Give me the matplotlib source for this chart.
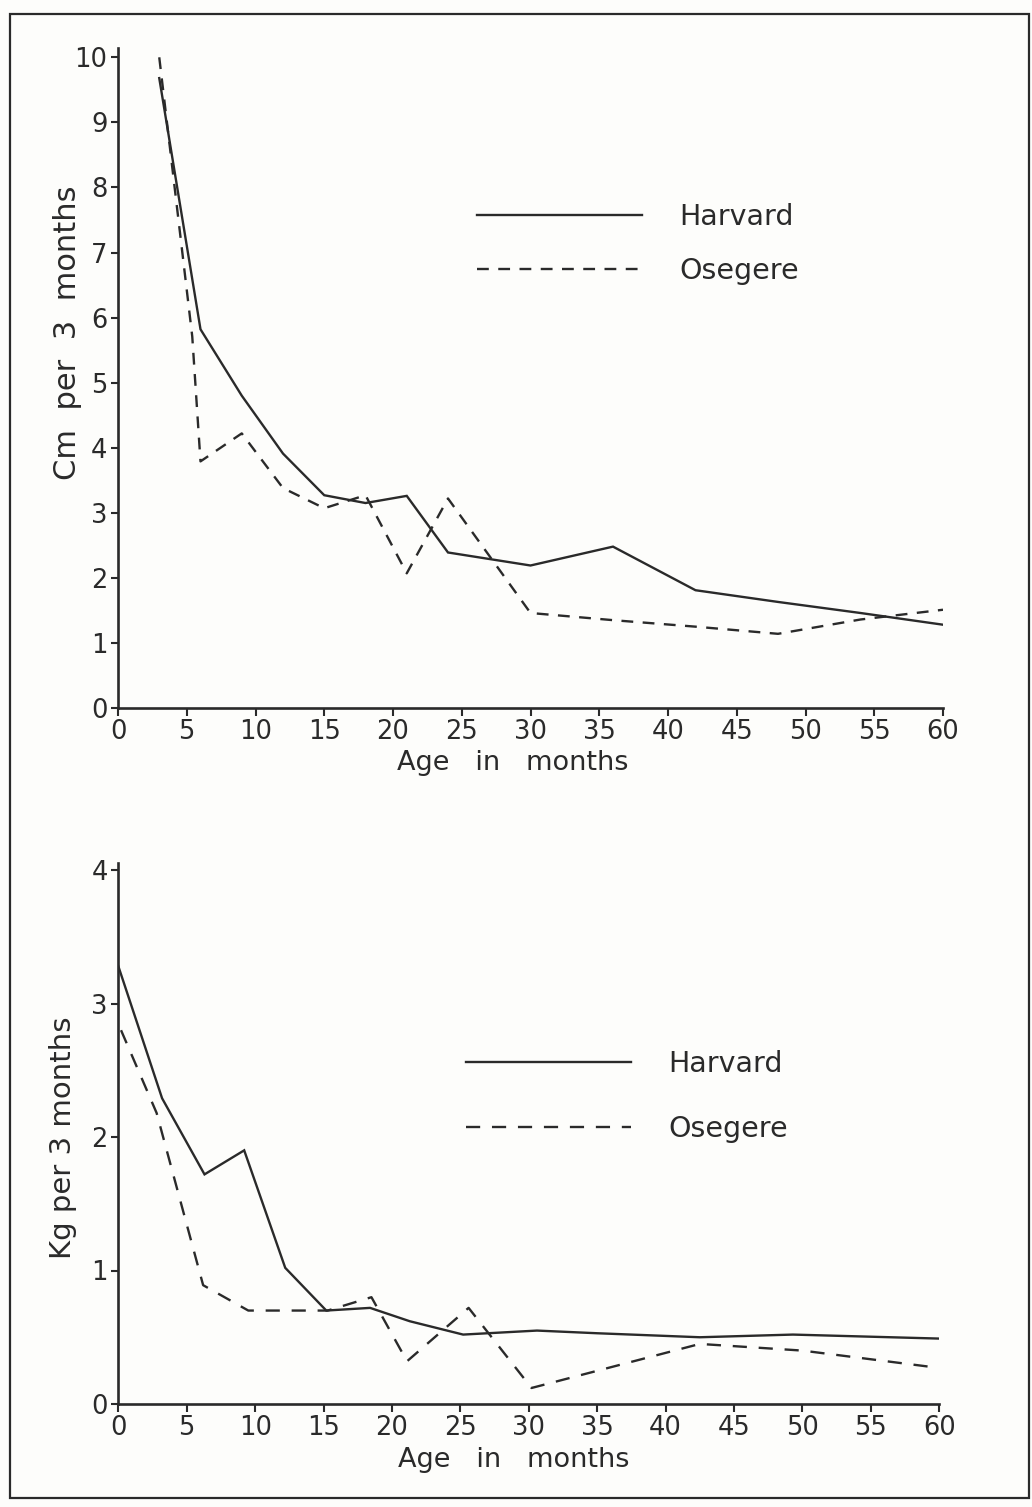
import matplotlib
matplotlib.use("Agg")
import matplotlib.pyplot as plt
from matplotlib.patches import Rectangle

# ---------------- data ----------------
# Top panel: length velocity, cm per 3 months
len_harvard_age = [3, 6, 9, 12, 15, 18, 21, 24, 27, 30, 36, 42, 48, 54, 60]
len_harvard_val = [9.68, 5.82, 4.80, 3.91, 3.27, 3.15, 3.26, 2.39, 2.29, 2.19, 2.48, 1.81, 1.63, 1.46, 1.28]

len_osegere_age = [3, 5.4, 6, 9, 12, 15, 18, 21, 24, 30, 36, 42, 48, 54, 60]
len_osegere_val = [10.0, 5.71, 3.79, 4.22, 3.38, 3.07, 3.27, 2.07, 3.22, 1.46, 1.35, 1.25, 1.14, 1.36, 1.51]

# Bottom panel: weight velocity, kg per 3 months
wt_harvard_age = [0, 3.2, 6.3, 9.2, 12.2, 15.2, 18.4, 21.3, 25.2, 30.6, 35, 42.5, 49.3, 60]
wt_harvard_val = [3.28, 2.29, 1.72, 1.90, 1.02, 0.70, 0.72, 0.62, 0.52, 0.55, 0.53, 0.50, 0.52, 0.49]

wt_osegere_age = [0.2, 2.8, 6.2, 9.5, 15.3, 18.5, 21.1, 25.6, 30.2, 42.5, 50, 60]
wt_osegere_val = [2.80, 2.18, 0.89, 0.70, 0.70, 0.80, 0.32, 0.72, 0.12, 0.45, 0.40, 0.27]

x_ticks = list(range(0, 61, 5))
top_y_ticks = list(range(0, 11))
bot_y_ticks = list(range(0, 5))
series_names = ["Harvard", "Osegere"]
top_ylabel = "Cm  per  3  months"
bot_ylabel = "Kg per 3 months"
xlabel_text = "Age   in   months"

# ---------------- figure ----------------
W, H = 1032, 1507
plt.rcParams["font.family"] = ["DejaVu Sans"]
ink = "#2a2a2a"
fig = plt.figure(figsize=(W / 100, H / 100), dpi=100)
fig.patch.set_facecolor("#fdfdfb")


def axes_rect(left, right, bottom, top):
    return [left / W, 1 - bottom / H, (right - left) / W, (bottom - top) / H]


ax1 = fig.add_axes(axes_rect(118, 943, 708, 708 - 10.15 * 65.07))
ax2 = fig.add_axes(axes_rect(118.3, 939.3, 1404, 1404 - 4.05 * 133.5))

dash = (0, (5, 4))


def style(ax, yticks, ymax):
    ax.set_facecolor("none")
    for s in ("top", "right"):
        ax.spines[s].set_visible(False)
    for s in ("left", "bottom"):
        ax.spines[s].set_linewidth(1.9)
        ax.spines[s].set_color(ink)
    ax.set_xlim(0, 60)
    ax.set_ylim(0, ymax)
    ax.set_xticks(x_ticks)
    ax.set_yticks(yticks)
    ax.tick_params(axis="x", direction="out", length=6, width=1.5, colors=ink,
                   labelsize=18.5, pad=2)
    ax.tick_params(axis="y", direction="out", length=5, width=1.5, colors=ink,
                   labelsize=18.5, pad=2.5)


style(ax1, top_y_ticks, 10.15)
style(ax2, bot_y_ticks, 4.05)

# top panel lines
ax1.plot(len_harvard_age, len_harvard_val, color=ink, lw=1.7, solid_joinstyle="miter",
         label=series_names[0])
ax1.plot(len_osegere_age, len_osegere_val, color=ink, lw=1.7, linestyle=dash,
         label=series_names[1])

# bottom panel lines
ax2.plot(wt_harvard_age, wt_harvard_val, color=ink, lw=1.7, solid_joinstyle="miter",
         label=series_names[0])
ax2.plot(wt_osegere_age, wt_osegere_val, color=ink, lw=1.7, linestyle=(0, (6, 5)),
         label=series_names[1])

# legends
leg1 = ax1.legend(loc="center left", bbox_to_anchor=(0.435, 0.7025), frameon=False,
                  fontsize=20.5, handlelength=5.8, handletextpad=1.3, labelspacing=0.9,
                  borderpad=0, borderaxespad=0)
leg2 = ax2.legend(loc="center left", bbox_to_anchor=(0.4235, 0.5687), frameon=False,
                  fontsize=20.5, handlelength=5.8, handletextpad=1.3, labelspacing=1.3,
                  borderpad=0, borderaxespad=0)
for leg in (leg1, leg2):
    for t in leg.get_texts():
        t.set_color(ink)

# axis labels
ax1.text(-0.0618, 0.568, top_ylabel, transform=ax1.transAxes, rotation=90,
         ha="center", va="center", fontsize=22, color=ink)
ax2.text(-0.0674, 0.492, bot_ylabel, transform=ax2.transAxes, rotation=90,
         ha="center", va="center", fontsize=21, color=ink)
ax1.text(0.479, -0.0833, xlabel_text, transform=ax1.transAxes,
         ha="center", va="center", fontsize=19.5, color=ink)
ax2.text(0.482, -0.1036, xlabel_text, transform=ax2.transAxes,
         ha="center", va="center", fontsize=19.5, color=ink)

# page frame of the scan
fig.patches.append(Rectangle((10 / W, 1 - 1498 / H), (1029 - 10) / W, (1498 - 14) / H,
                             transform=fig.transFigure, fill=False, lw=1.6,
                             edgecolor=ink))

fig.savefig("out.png", dpi=100, facecolor=fig.get_facecolor())
